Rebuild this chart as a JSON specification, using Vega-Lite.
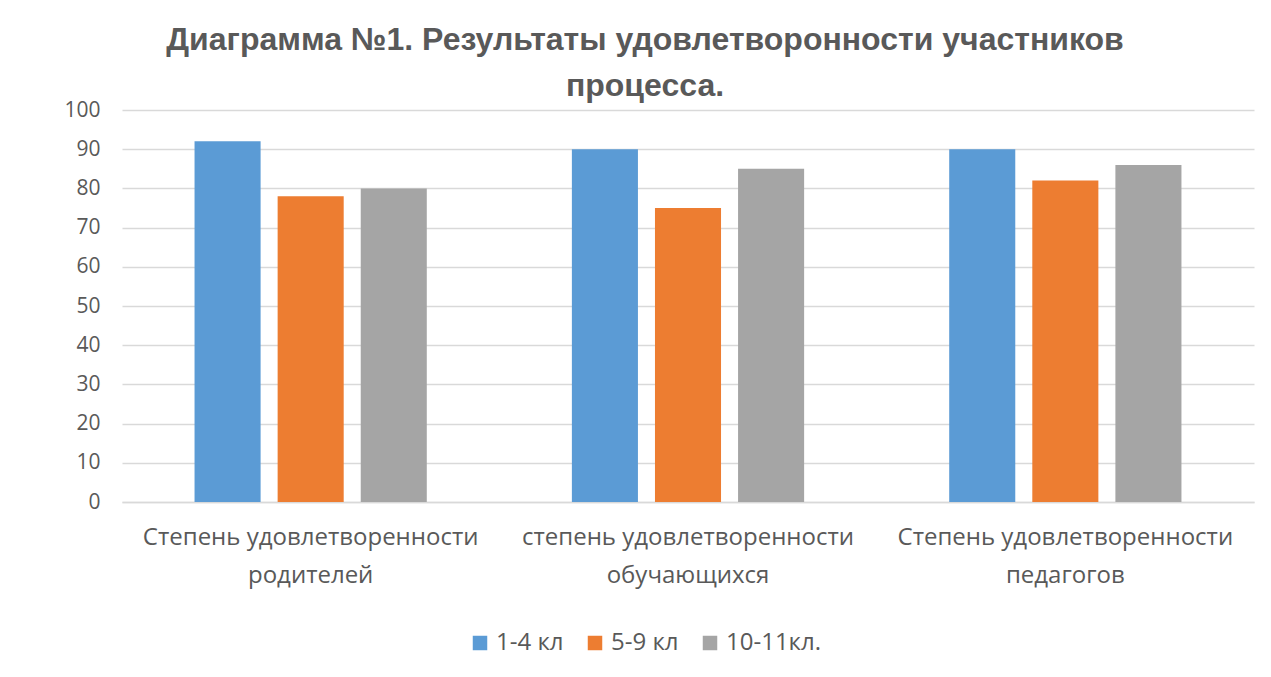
{
  "$schema": "https://vega.github.io/schema/vega-lite/v6.json",
  "autosize": {"type": "none"},
  "width": 1132,
  "height": 392,
  "padding": {"left": 122, "top": 110, "right": 17, "bottom": 175},
  "background": "white",
  "title": {
    "text": ["Диаграмма №1. Результаты удовлетворонности участников", "процесса."],
    "font": "Liberation Sans",
    "fontSize": 32,
    "fontWeight": "bold",
    "color": "#595959",
    "anchor": "middle",
    "dx": -43,
    "offset": -4,
    "lineHeight": 46
  },
  "data": {
    "values": [
      {"category": "Степень удовлетворенности родителей", "group": "1-4 кл", "value": 92},
      {"category": "Степень удовлетворенности родителей", "group": "5-9 кл", "value": 78},
      {"category": "Степень удовлетворенности родителей", "group": "10-11кл.", "value": 80},
      {"category": "степень удовлетворенности обучающихся", "group": "1-4 кл", "value": 90},
      {"category": "степень удовлетворенности обучающихся", "group": "5-9 кл", "value": 75},
      {"category": "степень удовлетворенности обучающихся", "group": "10-11кл.", "value": 85},
      {"category": "Степень удовлетворенности педагогов", "group": "1-4 кл", "value": 90},
      {"category": "Степень удовлетворенности педагогов", "group": "5-9 кл", "value": 82},
      {"category": "Степень удовлетворенности педагогов", "group": "10-11кл.", "value": 86}
    ]
  },
  "mark": {"type": "bar"},
  "encoding": {
    "x": {
      "field": "category",
      "type": "nominal",
      "sort": null,
      "title": null,
      "scale": {"paddingInner": 0, "paddingOuter": 0},
      "axis": {
        "labelAngle": 0,
        "labelExpr": "[substring(datum.label,0,25), substring(datum.label,26)]",
        "labelFont": "Open Sans",
        "labelFontSize": 24,
        "labelColor": "#595959",
        "labelLineHeight": 38,
        "labelPadding": 35,
        "labelLimit": 0,
        "ticks": false,
        "domainColor": "#d9d9d9",
        "domainWidth": 1.5,
        "labelBaseline": "middle"
      }
    },
    "xOffset": {
      "field": "group",
      "type": "nominal",
      "sort": ["1-4 кл", "5-9 кл", "10-11кл."],
      "scale": {"paddingInner": 0.205, "paddingOuter": 0.873}
    },
    "y": {
      "field": "value",
      "type": "quantitative",
      "title": null,
      "scale": {"domain": [0, 100]},
      "axis": {
        "values": [0, 10, 20, 30, 40, 50, 60, 70, 80, 90, 100],
        "domain": false,
        "ticks": false,
        "labelFont": "Open Sans",
        "labelFontSize": 21,
        "labelColor": "#595959",
        "labelPadding": 22,
        "gridColor": "#d9d9d9",
        "gridWidth": 1.5
      }
    },
    "color": {
      "field": "group",
      "type": "nominal",
      "sort": ["1-4 кл", "5-9 кл", "10-11кл."],
      "scale": {"domain": ["1-4 кл", "5-9 кл", "10-11кл."], "range": ["#5B9BD5", "#ED7D31", "#A5A5A5"]},
      "legend": {
        "title": null,
        "orient": "none",
        "legendX": 346,
        "legendY": 521,
        "direction": "horizontal",
        "symbolType": "square",
        "symbolSize": 210,
        "symbolStrokeWidth": 0,
        "labelFont": "Open Sans",
        "labelFontSize": 24,
        "labelColor": "#595959",
        "labelOffset": 4,
        "columnPadding": 19
      }
    }
  },
  "config": {"view": {"stroke": null}}
}
